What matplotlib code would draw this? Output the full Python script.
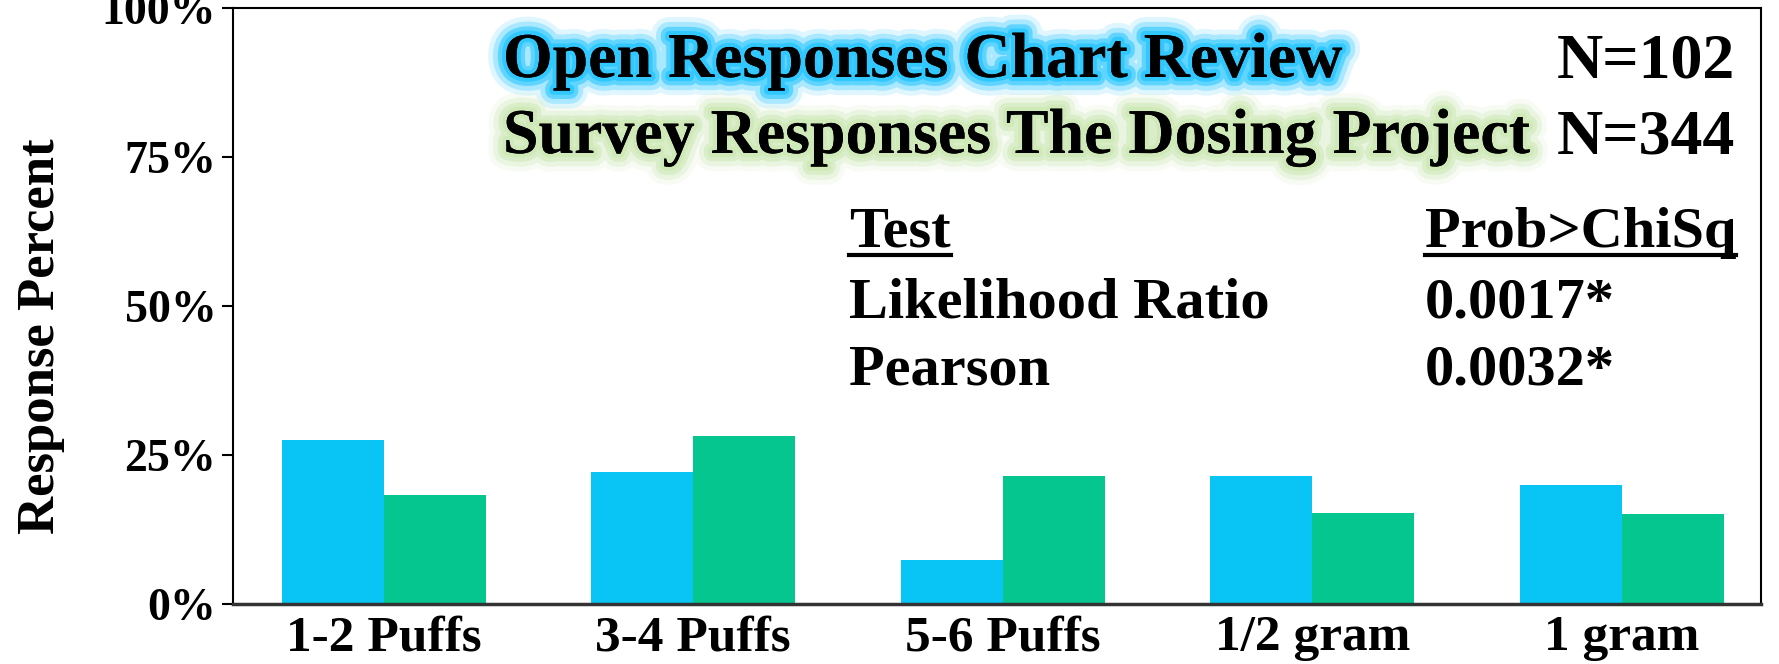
import matplotlib
matplotlib.use('Agg')
import matplotlib.pyplot as plt
import matplotlib.patheffects as pe
from matplotlib.lines import Line2D
import numpy as np

categories = ['1-2 Puffs', '3-4 Puffs', '5-6 Puffs', '1/2 gram', '1 gram']
chart_review = [27.6, 22.1, 7.3, 21.5, 20.0]
dosing_project = [18.3, 28.2, 21.5, 15.3, 15.1]
yticks = [0, 25, 50, 75, 100]
ytick_labels = ['0%', '25%', '50%', '75%', '100%']

titles = ['Open Responses Chart Review', 'Survey Responses The Dosing Project']
counts = ['N=102', 'N=344']
tests = ['Likelihood Ratio', 'Pearson']
probs = ['0.0017*', '0.0032*']

plt.rcParams['font.family'] = ['Liberation Serif', 'DejaVu Serif']
plt.rcParams['font.weight'] = 'bold'

W, H = 1779, 664
fig = plt.figure(figsize=(W / 100, H / 100), dpi=100)
ax = fig.add_axes([233 / W, 1 - 604 / H, (1761 - 233) / W, (604 - 8) / H])

x = np.arange(len(categories))
bw = 0.33
ax.bar(x - bw / 2, chart_review, bw, color='#08c5f6')
ax.bar(x + bw / 2, dosing_project, bw, color='#05c68f')

ax.set_xlim(-0.487, 4.45)
ax.set_ylim(0, 100)
ax.set_yticks(yticks)
ax.set_yticklabels(ytick_labels, fontsize=33, fontweight='bold')
ax.set_xticks(x)
ax.set_xticklabels(categories, fontsize=37, fontweight='bold')
ax.tick_params(axis='y', length=8, width=1.5, pad=4)
ax.tick_params(axis='x', length=0, pad=8)
for s in ['top', 'right', 'left']:
    ax.spines[s].set_linewidth(1.5)
ax.spines['bottom'].set_linewidth(2.5)
ax.spines['bottom'].set_color('#333333')
ax.set_ylabel('Response Percent', fontsize=38, fontweight='bold')
ax.yaxis.set_label_coords(-0.11, 0.45)


def px(xp, yp):
    return xp / W, 1 - yp / H


def glow(color):
    return [pe.withStroke(linewidth=26, foreground=color, alpha=0.15),
            pe.withStroke(linewidth=19, foreground=color, alpha=0.3),
            pe.withStroke(linewidth=12, foreground=color, alpha=0.6),
            pe.withStroke(linewidth=6, foreground=color, alpha=0.95),
            pe.Normal()]


glows = [glow('#2ec8ff'), glow('#cfeab8')]
title_y = [62, 138]
for t, n, yy, g in zip(titles, counts, title_y, glows):
    fig.text(*px(503, yy), t, fontsize=46, fontweight='bold', va='center',
             ha='left', path_effects=g)
    fig.text(*px(1735, yy), n, fontsize=46, fontweight='bold', va='center',
             ha='right')

hdr_y = 233
t1 = fig.text(*px(849, hdr_y), 'Test', fontsize=42, fontweight='bold',
              va='center', ha='left')
t2 = fig.text(*px(1425, hdr_y), 'Prob>ChiSq', fontsize=42, fontweight='bold',
              va='center', ha='left')
row_y = [304, 371]
for name, p, yy in zip(tests, probs, row_y):
    fig.text(*px(849, yy), name, fontsize=42, fontweight='bold', va='center', ha='left')
    fig.text(*px(1425, yy), p, fontsize=42, fontweight='bold', va='center', ha='left')

fig.canvas.draw()
for t in [t1, t2]:
    bb = t.get_window_extent()
    yl = bb.y0 + 4
    fig.add_artist(Line2D([bb.x0 / W, bb.x1 / W], [yl / H, yl / H],
                          transform=fig.transFigure, color='black', lw=3))

fig.savefig('out.png', dpi=100)
